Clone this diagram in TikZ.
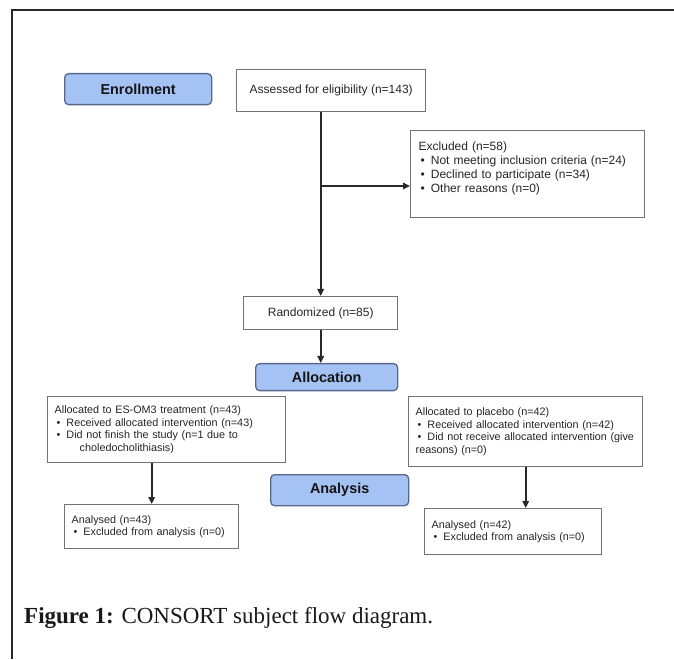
\documentclass[tikz,border=0pt]{standalone}
\usepackage{fontspec}
\setmainfont{Liberation Serif}
\setsansfont{Liberation Sans}
\definecolor{stagefill}{RGB}{164,194,244}
\definecolor{stageline}{RGB}{88,104,140}
\definecolor{boxline}{RGB}{115,115,115}
\definecolor{lineblack}{RGB}{40,40,40}
\usetikzlibrary{arrows.meta}
\newcommand{\bul}{\hspace*{2pt}\textbullet\hspace{6pt}}

\begin{document}
\begin{tikzpicture}[x=1pt,y=1pt,
          stage/.style={rectangle,rounded corners=4pt,draw=stageline,fill=stagefill,line width=1.3pt,
                        anchor=north west,font=\sffamily\bfseries\fontsize{14.4}{16}\selectfont,text=black!92},
          flow/.style={rectangle,draw=boxline,fill=white,line width=1.4pt,anchor=north west,
                       font=\sffamily\fontsize{12}{14}\selectfont,text=black!85},
          list/.style={flow,align=left,inner xsep=8pt},
          small/.style={list,inner xsep=7pt,font=\sffamily\fontsize{10.8}{12.7}\selectfont},
          arrow/.style={draw=lineblack,line width=1.7pt,-{Triangle[length=7pt,width=6.5pt]}}]
        \useasboundingbox (0,0) rectangle (674,659);
        \draw[lineblack,line width=1.3pt] (12,0) -- (12,649) -- (674,649);
        \node[stage,minimum width=147pt,minimum height=31pt] (enroll) at (64,586) {Enrollment};
        \node[flow,minimum width=189pt,minimum height=42pt] (assess) at (236,590) {Assessed for eligibility (n=143)};
        \node[list,text width=218pt,minimum height=87pt] (excl) at (410,529)
          {Excluded (n=58)\\ \bul Not meeting inclusion criteria (n=24)\\ \bul Declined to participate (n=34)\\
           \bul Other reasons (n=0)\\ \mbox{}};
        \node[flow,minimum width=154pt,minimum height=33pt] (rand) at (243,363) {Randomized (n=85)};
        \node[stage,minimum width=142pt,minimum height=27pt] (alloc) at (255,296) {Allocation};
        \node[small,text width=224pt,minimum height=66pt] (leftalloc) at (47,263)
          {Allocated to ES-OM3 treatment (n=43)\\ \bul Received allocated intervention (n=43)\\
           \bul Did not finish the study (n=1 due to\\ \hspace*{25pt}choledocholithiasis)};
        \node[small,text width=220pt,minimum height=70pt] (rightalloc) at (408,263)
          {Allocated to placebo (n=42)\\ \bul Received allocated intervention (n=42)\\
           \bul Did not receive allocated intervention (give\\ reasons) (n=0)};
        \node[stage,minimum width=138pt,minimum height=31pt] (analysis) at (270,185) {Analysis};
        \node[small,text width=160pt,minimum height=44pt] (anl) at (64,155)
          {Analysed (n=43)\\ \bul Excluded from analysis (n=0)};
        \node[small,text width=163pt,minimum height=46pt] (anr) at (424,151)
          {Analysed (n=42)\\ \bul Excluded from analysis (n=0)};
        \node[anchor=base west,inner sep=0pt,font=\fontsize{23}{27}\selectfont,text=black!90] (caption) at (24,36)
          {\textbf{Figure 1:} CONSORT subject flow diagram.};
        \coordinate (split) at (320,473);
        \draw[arrow] (rand.north |- assess.south) -- (rand.north);
        \draw[arrow] (split) -- (split -| excl.west);
        \draw[arrow] (rand.south) -- (rand.south |- alloc.north);
        \draw[arrow] (anl.north |- leftalloc.south) -- (anl.north);
        \draw[arrow] (rightalloc.south) -- (rightalloc.south |- anr.north);
        \end{tikzpicture}
\end{document}
